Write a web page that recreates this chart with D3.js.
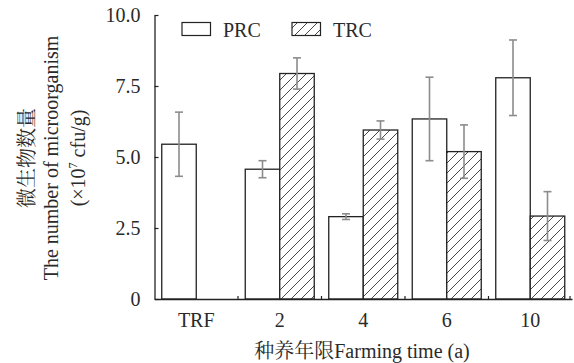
<!DOCTYPE html>
<html>
<head>
<meta charset="utf-8">
<script src="https://cdn.jsdelivr.net/npm/d3@7"></script>
<style>
  body { margin: 0; background: #fff; }
  svg text { font-family: "Liberation Serif", "Times New Roman", serif; fill: #2a2a2a; }
  .cjk { font-family: "Liberation Serif", "Noto Serif CJK SC", "Noto Sans CJK SC", serif; }
</style>
</head>
<body>
<div id="chart"></div>
<script>
// data
const categories = ['TRF', '2', '4', '6', '10'];
const prcMean = [5.45, 4.57, 2.90, 6.34, 7.79];
const prcErr  = [1.13, 0.30, 0.10, 1.47, 1.33];
const trcMean = [null, 7.94, 5.95, 5.19, 2.92];
const trcErr  = [null, 0.55, 0.32, 0.94, 0.86];
const yTicks = [0, 2.5, 5.0, 7.5, 10.0];

const W = 574, H = 363;
const margin = {left: 154.5, right: 2, top: 15, bottom: 64};

let svg = d3.select('#chart').append('svg')
            .attr('width', W)
            .attr('height', H);

const x = d3.scaleBand()
            .domain(categories)
            .range([margin.left, W - margin.right]);
const y = d3.scaleLinear()
            .domain([0, 10])
            .range([H - margin.bottom, margin.top]);

const barW = 34.5;

// hatch pattern
let defs = svg.append('defs');
let pat = defs.append('pattern')
              .attr('id', 'hatch')
              .attr('patternUnits', 'userSpaceOnUse')
              .attr('width', 10)
              .attr('height', 10);
pat.append('rect').attr('width', 10).attr('height', 10).attr('fill', '#fff');
pat.append('path')
   .attr('d', 'M0,10 L10,0 M-2,2 L2,-2 M8,12 L12,8')
   .attr('stroke', '#333')
   .attr('stroke-width', 0.9);

// rows for bars
let rows = [];
categories.forEach((c, i) => {
  rows.push({cat: c, kind: 'PRC', v: prcMean[i], e: prcErr[i], off: -barW});
  if (trcMean[i] != null) rows.push({cat: c, kind: 'TRC', v: trcMean[i], e: trcErr[i], off: 0});
});

let barLayer = svg.append('g');
barLayer.selectAll('rect.bar').data(rows)
        .join('rect')
        .attr('class', 'bar')
        .attr('x', d => x(d.cat) + x.bandwidth() / 2 + d.off)
        .attr('y', d => y(d.v))
        .attr('width', barW)
        .attr('height', d => y(0) - y(d.v))
        .attr('fill', d => d.kind === 'TRC' ? 'url(#hatch)' : '#fff')
        .attr('stroke', '#222')
        .attr('stroke-width', 1.3);

// error bars
let errLayer = svg.append('g')
                  .attr('stroke', '#8c8c8c')
                  .attr('stroke-width', 1.6);
let cx = d => x(d.cat) + x.bandwidth() / 2 + d.off + barW / 2;
errLayer.selectAll('line.v').data(rows).join('line')
        .attr('x1', cx).attr('x2', cx)
        .attr('y1', d => y(d.v + d.e)).attr('y2', d => y(d.v - d.e));
errLayer.selectAll('line.top').data(rows).join('line')
        .attr('x1', d => cx(d) - 4).attr('x2', d => cx(d) + 4)
        .attr('y1', d => y(d.v + d.e)).attr('y2', d => y(d.v + d.e));
errLayer.selectAll('line.bot').data(rows).join('line')
        .attr('x1', d => cx(d) - 4).attr('x2', d => cx(d) + 4)
        .attr('y1', d => y(d.v - d.e)).attr('y2', d => y(d.v - d.e));

// y axis
let yAxis = svg.append('g')
               .attr('transform', `translate(${margin.left},0)`)
               .call(d3.axisLeft(y).tickValues(yTicks)
                       .tickFormat(d => d === 0 ? '0' : d3.format('.1f')(d))
                       .tickSizeInner(-4).tickSizeOuter(0).tickPadding(14));
yAxis.select('.domain').attr('stroke', '#222').attr('stroke-width', 1.3);
yAxis.selectAll('.tick line').attr('stroke', '#222').attr('stroke-width', 1.2);
yAxis.selectAll('.tick text').attr('font-size', 20)
     .attr('font-family', '"Liberation Serif", serif').attr('fill', '#2a2a2a');

// x axis
let xAxis = svg.append('g')
               .attr('transform', `translate(0,${y(0)})`)
               .call(d3.axisBottom(x).tickSize(0).tickPadding(14));
xAxis.select('.domain').attr('stroke', '#222').attr('stroke-width', 1.3);
xAxis.selectAll('.tick text').attr('font-size', 20)
     .attr('font-family', '"Liberation Serif", serif').attr('fill', '#2a2a2a');
// small boundary ticks between groups
xAxis.selectAll('line.sep').data(categories.slice(1).concat(['end']))
     .join('line')
     .attr('class', 'sep')
     .attr('x1', d => d === 'end' ? x.range()[1] - 2 : x(d))
     .attr('x2', d => d === 'end' ? x.range()[1] - 2 : x(d))
     .attr('y1', 0).attr('y2', -3)
     .attr('stroke', '#222').attr('stroke-width', 1.2);

// axis titles
svg.append('text')
   .attr('class', 'cjk')
   .attr('x', 362).attr('y', 358)
   .attr('text-anchor', 'middle')
   .attr('font-size', 20)
   .text('种养年限Farming time (a)');

let yt = svg.append('g').attr('transform', 'translate(0,158) rotate(-90)');
yt.append('text').attr('class', 'cjk')
  .attr('x', 0).attr('y', 34).attr('text-anchor', 'middle')
  .attr('font-size', 20).text('微生物数量');
yt.append('text')
  .attr('x', 0).attr('y', 58).attr('text-anchor', 'middle')
  .attr('font-size', 20).text('The number of microorganism');
let unit = yt.append('text')
  .attr('x', 0).attr('y', 85).attr('text-anchor', 'middle')
  .attr('font-size', 20);
unit.append('tspan').text('(×10');
unit.append('tspan').attr('font-size', 12).attr('dy', -8).text('7');
unit.append('tspan').attr('dy', 8).text(' cfu/g)');

// legend
const legendItems = [
  {name: 'PRC', fill: '#fff', x: 182},
  {name: 'TRC', fill: 'url(#hatch)', x: 292}
];
let legend = svg.append('g');
legend.selectAll('rect').data(legendItems).join('rect')
      .attr('x', d => d.x).attr('y', 22.5)
      .attr('width', 28.5).attr('height', 13)
      .attr('fill', d => d.fill)
      .attr('stroke', '#222').attr('stroke-width', 1.2);
legend.selectAll('text').data(legendItems).join('text')
      .attr('x', d => d.x + 41).attr('y', 36.5)
      .attr('font-size', 20)
      .text(d => d.name);
</script>
</body>
</html>
